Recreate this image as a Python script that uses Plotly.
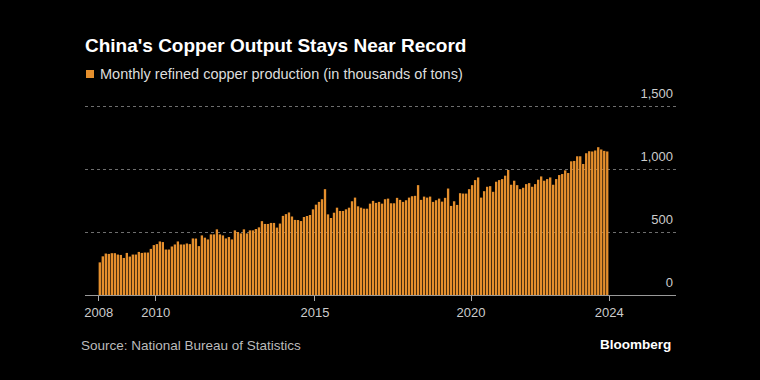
import plotly.graph_objects as go

# Monthly refined copper production (thousands of tons)
production = [
    259, 307, 329, 326, 332, 332, 321, 318, 294, 334, 305, 321, 321, 342, 334, 337, 337, 366, 396, 404,
    425, 420, 361, 361, 385, 401, 425, 401, 401, 409, 404, 449, 448,
    388, 473, 455, 441, 481, 481, 521, 481, 473, 449, 460, 441, 513, 500, 489, 521, 489, 513, 513, 524,
    537, 586, 564, 564, 572, 572, 535, 567, 628, 642, 655, 623, 596,
    595, 587, 619, 627, 635, 680, 717, 739, 760, 840, 640, 611, 653, 693, 667, 667, 680, 693, 744, 773,
    704, 693, 685, 685, 725, 747, 731, 739, 725, 760, 765, 728, 728, 771,
    755, 739, 752, 773, 784, 787, 872, 755, 781, 773, 781, 739, 752, 765, 741, 771, 845, 707, 744, 715,
    808, 805, 805, 840, 872, 912, 933, 773, 824, 859, 864, 819, 899, 912,
    920, 947, 992, 875, 907, 872, 840, 851, 880, 888, 859, 880, 915, 941, 907, 920, 933, 875, 920, 952,
    960, 989, 968, 1061, 1064, 1101, 1101, 1040, 1125, 1141, 1139, 1147, 1173, 1155, 1144, 1139,
]
bar_index = list(range(len(production)))

# x-axis year labels and the bar index where each year begins
year_labels = ["2008", "2010", "2015", "2020", "2024"]
year_first_bar = [0, 19, 72, 124, 170]

# y-axis ticks
y_tick_values = [0, 500, 1000, 1500]
y_tick_labels = ["0", "500", "1,000", "1,500"]

title_text = "China's Copper Output Stays Near Record"
legend_text = "Monthly refined copper production (in thousands of tons)"
source_text = "Source: National Bureau of Statistics"

BAR_COLOR = "#E58F2D"
FONT = "Liberation Sans"

W, H = 760, 380
ML, MR, MT, MB = 85, 84, 85, 85
PW = W - ML - MR
PH = H - MT - MB


def px(x):
    return (x - ML) / PW


def py(y):
    return (H - MB - y) / PH


fig = go.Figure()
fig.add_trace(go.Bar(
    x=bar_index, y=production,
    marker=dict(color=BAR_COLOR, line=dict(width=0)),
    showlegend=False,
))

fig.update_layout(
    width=W, height=H,
    paper_bgcolor="#000000", plot_bgcolor="#000000",
    margin=dict(l=ML, r=MR, t=MT, b=MB),
    bargap=0.22,
    font=dict(family=FONT, color="#cccccc"),
    xaxis=dict(
        range=[-4.93, 191.9],
        tickvals=[i - 0.35 for i in year_first_bar],
        ticktext=year_labels,
        ticks="outside", ticklen=5, tickcolor="#aaaaaa", tickwidth=1,
        showline=True, linecolor="#999999", linewidth=1,
        showgrid=False, zeroline=False,
        tickfont=dict(size=13, color="#cccccc", family=FONT),
    ),
    yaxis=dict(
        range=[0, PH / 0.126],
        side="right",
        tickvals=y_tick_values, ticktext=y_tick_labels,
        ticklabelposition="inside top",
        ticklabelshift=-3,
        showgrid=True, gridcolor="#6e6e6e", griddash="dot", gridwidth=1,
        zeroline=False, showline=False, ticks="",
        tickfont=dict(size=13, color="#cccccc", family=FONT),
    ),
)

fig.add_annotation(
    text="<b>" + title_text + "</b>", xref="paper", yref="paper",
    x=px(83), y=py(45), xanchor="left", yanchor="middle",
    showarrow=False, font=dict(size=19, color="#ffffff", family=FONT),
)
fig.add_shape(
    type="rect", xref="paper", yref="paper",
    x0=px(86), x1=px(94), y0=py(78), y1=py(70),
    fillcolor=BAR_COLOR, line=dict(width=0),
)
fig.add_annotation(
    text=legend_text, xref="paper", yref="paper",
    x=px(98), y=py(74.5), xanchor="left", yanchor="middle",
    showarrow=False, font=dict(size=14.5, color="#dddddd", family=FONT),
)
fig.add_annotation(
    text=source_text, xref="paper", yref="paper",
    x=px(79), y=py(345), xanchor="left", yanchor="middle",
    showarrow=False, font=dict(size=13.5, color="#bbbbbb", family=FONT),
)
fig.add_annotation(
    text="<b>Bloomberg</b>", xref="paper", yref="paper",
    x=px(673), y=py(344), xanchor="right", yanchor="middle",
    showarrow=False, font=dict(size=13.5, color="#ffffff", family=FONT),
)

fig.write_html(
    "out.html",
    config={"displayModeBar": False},
    post_script="document.body.style.margin='0';document.body.style.overflow='hidden';document.body.style.background='#000';",
)
